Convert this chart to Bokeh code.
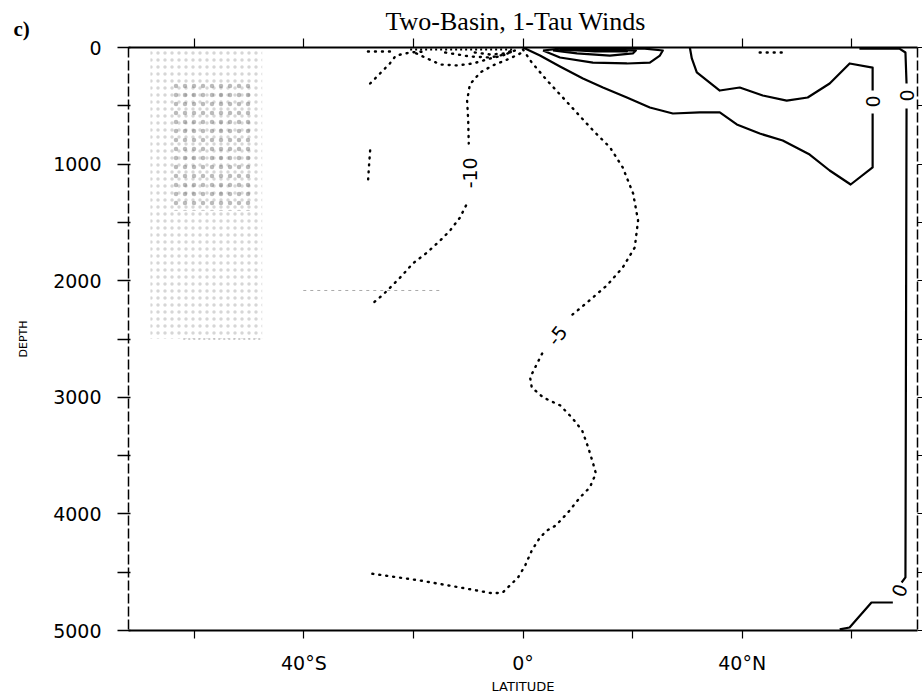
from bokeh.plotting import figure
from bokeh.models import Range1d, LinearAxis, FixedTicker, Label, Title
from bokeh.embed import file_html
from bokeh.resources import INLINE

# ---------------- data (latitude in degrees, depth in m) ----------------
lat_major_ticks = [-40, 0, 40]
lat_major_labels = ["40°S", "0°", "40°N"]
lat_minor_ticks = [-60, -20, 20, 60]
lat_all_ticks = [-60, -40, -20, 0, 20, 40, 60]
depth_major_ticks = [0, 1000, 2000, 3000, 4000, 5000]
depth_major_labels = ["0", "1000", "2000", "3000", "4000", "5000"]
depth_minor_ticks = [500, 1500, 2500, 3500, 4500]
depth_all_ticks = [0, 500, 1000, 1500, 2000, 2500, 3000, 3500, 4000, 4500, 5000]

# -5 contour (dotted), split at its label
m5_lat_a = [0.0, 1.6, 4.4, 8.6, 12.8, 15.9, 18.2, 20.1, 21.0, 20.4, 18.2, 15.3, 11.7, 8.6]
m5_dep_a = [17, 129, 283, 497, 712, 858, 1029, 1252, 1484, 1715, 1887, 2041, 2187, 2307]
m5_lat_b = [3.5, 1.3, 1.6, 3.7, 6.8, 8.9, 10.8, 11.9, 12.8, 13.3, 12.2, 10.4, 8.2, 6.0,
            4.4, 3.1, 1.6, 0.4, -0.9, -3.7, -5.5, -8.4, -11.5, -18.8, -27.9]
m5_dep_b = [2624, 2830, 2916, 3002, 3070, 3173, 3285, 3430, 3568, 3653, 3773, 3859, 3988, 4099,
            4142, 4202, 4314, 4442, 4545, 4674, 4682, 4657, 4631, 4571, 4511]

# -10 contour (dotted), split at its label
m10_lat_a = [-0.5, -2.4, -5.5, -7.8, -9.7, -10.2, -10.0, -9.9]
m10_dep_a = [51, 94, 154, 214, 317, 455, 626, 823]
m10_lat_b = [-10.4, -11.5, -13.3, -15.1, -17.5, -20.1, -22.4, -25.5, -27.9]
m10_dep_b = [1355, 1458, 1569, 1655, 1758, 1852, 1972, 2118, 2213]

# other negative (dotted) contours near the surface
a0_lat = [-28.3, -23.3]
a0_dep = [34, 34]
a_lat = [-27.9, -26.1, -24.3, -23.2, -20.6, -17.9]
a_dep = [309, 223, 137, 69, 43, 34]
b_lat = [-19.5, -17.5, -15.1, -12.0, -9.1, -6.0, -3.7, -2.0]
b_dep = [50, 94, 146, 154, 137, 94, 69, 34]
b2_lat = [-14.2, -9.7, -6.0, -3.3, -1.5]
b2_dep = [43, 77, 86, 60, 26]
b3_lat = [-8.8, -6.0, -3.3, -1.5]
b3_dep = [43, 60, 51, 17]
h1_lat = [-20.6, -1.5]
h1_dep = [17, 17]
frag_lat = [-27.9, -28.1, -28.3]
frag_dep = [883, 1012, 1158]
nfrag_lat = [43.2, 47.8]
nfrag_dep = [43, 43]

# zero contour around the northern cell (solid), split at its label
z_lat_a = [0, 3.1, 6.75, 10.94, 14.59, 18.96, 23.15, 27.35, 32.27, 35.92, 39.02, 43.21,
           47.4, 52.32, 55.97, 59.8, 63.81, 63.81]
z_dep_a = [0, 69, 163, 266, 343, 429, 515, 566, 557, 557, 660, 738, 798, 918, 1055, 1175, 1029, 566]
z_lat_b = [63.81, 63.81, 59.62, 55.97, 51.96, 48.13, 43.76, 39.56, 35.92, 31.72, 30.81, 30.45]
z_dep_b = [369, 172, 137, 309, 429, 455, 412, 343, 369, 214, 94, 0]

# zero contour along the northern wall (solid)
r1_lat = [61.4, 68.7, 69.8, 70.0]
r1_dep = [9, 9, 43, 309]
r2_lat = [70.0, 69.8, 69.1]
r2_dep = [523, 4545, 4588]
r3_lat = [67.5, 63.6, 59.6, 57.8]
r3_dep = [4760, 4760, 4974, 4991]

# positive cell near the surface (solid, nested)
l1_lat = [3.65, 6.75, 12.76, 18.96, 23.15, 24.98, 25.52, 22.24, 6.75, 3.65]
l1_dep = [26, 86, 129, 137, 129, 69, 26, 9, 9, 26]
l2_lat = [5.47, 9.85, 15.86, 20.05, 20.6, 14.04, 5.47]
l2_dep = [26, 51, 69, 51, 26, 17, 26]
l3_lat = [6.75, 13.13, 18.96, 18.6, 6.75]
l3_dep = [17, 34, 34, 17, 17]

# faint stippled area and faint lines (scan shading)
stip_left, stip_right, stip_top, stip_bottom = -68.0, -47.6, 30, 2500
stip2_left, stip2_right, stip2_top, stip2_bottom = -64.0, -49.0, 300, 1400
stipb_lat = [-62.0, -47.6]
stipb_dep = [2500, 2500]
faint_lat = [-40.1, -14.6]
faint_dep = [2084, 2084]

# contour labels
clab_text = ["-10", "-5", "0", "0", "0"]
clab_lat = [-9.66, 6.2, 63.81, 70.0, 68.7]
clab_dep = [1075, 2470, 463, 412, 4657]
clab_angle = [90, 52, 90, 90, 70]

# ---------------- figure ----------------
p = figure(width=922, height=698, output_backend="svg", toolbar_location=None,
           x_range=Range1d(-72, 72), y_range=Range1d(5000, 0),
           x_axis_location=None, y_axis_location=None,
           min_border_left=128, min_border_right=5, min_border_top=47, min_border_bottom=68)
p.grid.visible = False
p.outline_line_color = None
p.background_fill_color = "white"
p.border_fill_color = "white"

tick_font = "DejaVu Sans"

xb = LinearAxis(ticker=FixedTicker(ticks=lat_major_ticks, minor_ticks=lat_minor_ticks),
                major_label_overrides={t: s for t, s in zip(lat_major_ticks, lat_major_labels)})
xb.major_tick_out = 8
xb.major_tick_in = 0
xb.minor_tick_out = 8
xb.minor_tick_in = 0
xb.major_label_standoff = 13
xb.major_label_text_font = tick_font
xb.major_label_text_font_size = "19px"
xb.major_label_text_color = "black"
xb.axis_line_width = 2
xb.major_tick_line_width = 1.2
xb.minor_tick_line_width = 1.2
xb.axis_label = "LATITUDE"
xb.axis_label_text_font = tick_font
xb.axis_label_text_font_size = "13px"
xb.axis_label_text_font_style = "normal"
xb.axis_label_text_color = "black"
xb.axis_label_standoff = 2
p.add_layout(xb, "below")

xt = LinearAxis(ticker=FixedTicker(ticks=[], minor_ticks=lat_all_ticks))
xt.major_tick_out = 0
xt.minor_tick_out = 9
xt.minor_tick_in = 0
xt.axis_line_width = 2
xt.minor_tick_line_width = 1.2
p.add_layout(xt, "above")

yl = LinearAxis(ticker=FixedTicker(ticks=depth_major_ticks, minor_ticks=depth_minor_ticks),
                major_label_overrides={t: s for t, s in zip(depth_major_ticks, depth_major_labels)})
yl.major_tick_out = 11
yl.major_tick_in = 2
yl.minor_tick_out = 11
yl.minor_tick_in = 2
yl.major_label_standoff = 16
yl.major_label_text_font = tick_font
yl.major_label_text_font_size = "19px"
yl.major_label_text_color = "black"
yl.major_label_orientation = "horizontal"
yl.axis_line_width = 1.5
yl.axis_line_dash = "10 3"
yl.major_tick_line_width = 1.5
yl.minor_tick_line_width = 1.5
yl.axis_label = "DEPTH"
yl.axis_label_text_font = tick_font
yl.axis_label_text_font_size = "11px"
yl.axis_label_text_font_style = "normal"
yl.axis_label_text_color = "black"
yl.axis_label_standoff = 20
p.add_layout(yl, "left")

yr = LinearAxis(ticker=FixedTicker(ticks=[], minor_ticks=depth_all_ticks))
yr.major_tick_out = 0
yr.minor_tick_out = 5
yr.minor_tick_in = 0
yr.axis_line_width = 1.5
yr.axis_line_dash = "10 3"
p.add_layout(yr, "right")

# "c)" sits next to the frame, the main title is stacked outside it and pulled down
p.add_layout(Title(text="c)", align="left", offset=-115, standoff=-4,
                   text_font="Liberation Serif", text_font_style="bold",
                   text_font_size="21px", text_color="black"), "above")

p.title.text = "Two-Basin, 1-Tau Winds"
p.title.align = "left"
p.title.offset = 257
p.title.text_font = "Liberation Serif"
p.title.text_font_size = "26px"
p.title.text_font_style = "normal"
p.title.text_color = "black"
p.title.standoff = -39

# stippled shading
p.quad(left=[stip_left], right=[stip_right], top=[stip_top], bottom=[stip_bottom],
       fill_color=None, line_color=None, hatch_pattern="dot", hatch_color="#999999",
       hatch_scale=7, hatch_weight=1, hatch_alpha=0.4)
p.quad(left=[stip2_left], right=[stip2_right], top=[stip2_top], bottom=[stip2_bottom],
       fill_color=None, line_color=None, hatch_pattern="dot", hatch_color="#555555",
       hatch_scale=9, hatch_weight=1, hatch_alpha=0.4)
p.line(stipb_lat, stipb_dep, line_color="#999999", line_width=1, line_dash="2 3")
p.line(faint_lat, faint_dep, line_color="#aaaaaa", line_width=1, line_dash="3 4")

dot_kw = dict(line_color="black", line_width=2.4, line_dash="1 6", line_cap="round")
for xs, ys in [(m5_lat_a, m5_dep_a), (m5_lat_b, m5_dep_b), (m10_lat_a, m10_dep_a),
               (m10_lat_b, m10_dep_b), (a0_lat, a0_dep), (a_lat, a_dep), (b_lat, b_dep),
               (b2_lat, b2_dep), (b3_lat, b3_dep), (frag_lat, frag_dep), (nfrag_lat, nfrag_dep)]:
    p.line(xs, ys, **dot_kw)
p.line(h1_lat, h1_dep, line_color="black", line_width=2.2, line_dash="2 3")

sol_kw = dict(line_color="black", line_width=2.2, line_join="round")
for xs, ys in [(z_lat_a, z_dep_a), (z_lat_b, z_dep_b), (r1_lat, r1_dep), (r2_lat, r2_dep),
               (r3_lat, r3_dep), (l1_lat, l1_dep), (l2_lat, l2_dep), (l3_lat, l3_dep)]:
    p.line(xs, ys, **sol_kw)

for t, x, y, a in zip(clab_text, clab_lat, clab_dep, clab_angle):
    p.add_layout(Label(x=x, y=y, text=t, angle=a, angle_units="deg", text_align="center",
                       text_baseline="middle", text_font=tick_font, text_font_size="19px",
                       text_color="black"))

open("out.html", "w").write(file_html(p, INLINE))
